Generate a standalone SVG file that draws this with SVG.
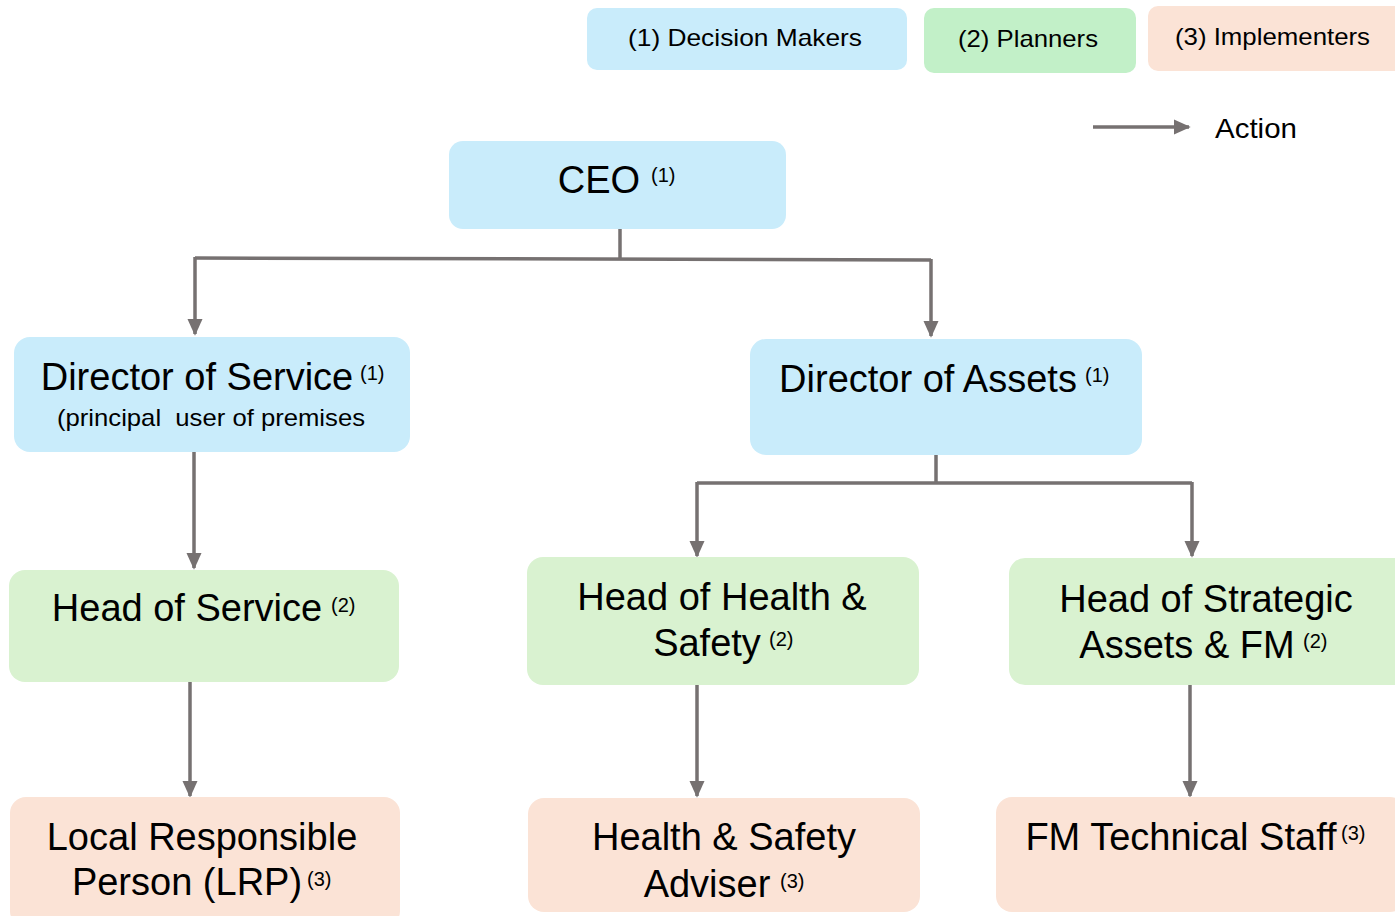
<svg xmlns="http://www.w3.org/2000/svg" width="1395" height="916" viewBox="0 0 1395 916">
  <style>
    text { font-family: "Liberation Sans", Arial, sans-serif; fill: #000; }
    .t { font-size: 38px; text-anchor: middle; }
    .sup { font-size: 20px; }
    .sub { font-size: 24px; }
    .leg { font-size: 24px; }
    .blue { fill: #c9ecfb; }
    .green { fill: #d9f2d0; }
    .lgreen { fill: #c2f0c8; }
    .peach { fill: #fbe3d6; }
    .conn { fill: none; stroke: #767171; stroke-width: 3.5; }
  </style>
  <defs>
    <marker id="arrow" viewBox="0 0 10 10" refX="9" refY="5" markerWidth="17" markerHeight="17" markerUnits="userSpaceOnUse" orient="auto">
      <path d="M0,0.5 L10,5 L0,9.5 z" fill="#767171"/>
    </marker>
  </defs>

  <rect width="1395" height="916" fill="#ffffff"/>

  <!-- legend -->
  <g id="legend">
    <rect x="587" y="8" width="320" height="62" rx="10" class="blue"/>
    <text x="628" y="46" class="leg" textLength="234" lengthAdjust="spacingAndGlyphs">(1) Decision Makers</text>
    <rect x="924" y="8" width="212" height="65" rx="10" class="lgreen"/>
    <text x="958" y="47" class="leg" textLength="140" lengthAdjust="spacingAndGlyphs">(2) Planners</text>
    <rect x="1148" y="6" width="260" height="65" rx="10" class="peach"/>
    <text x="1175" y="45" class="leg" textLength="195" lengthAdjust="spacingAndGlyphs">(3) Implementers</text>
    <line x1="1093" y1="127" x2="1189" y2="127" class="conn" marker-end="url(#arrow)"/>
    <text x="1215" y="138" style="font-size:28px" textLength="82" lengthAdjust="spacingAndGlyphs">Action</text>
  </g>

  <!-- connectors -->
  <g id="connectors">
    <path d="M620,229 V258" class="conn"/>
    <path d="M195,258 L931,260" class="conn"/>
    <path d="M195,257 V334" class="conn" marker-end="url(#arrow)"/>
    <path d="M931,259 V336" class="conn" marker-end="url(#arrow)"/>
    <path d="M194,452 V568" class="conn" marker-end="url(#arrow)"/>
    <path d="M190,682 V796" class="conn" marker-end="url(#arrow)"/>
    <path d="M936,455 V483 M697,483 H1192" class="conn"/>
    <path d="M697,482 V556" class="conn" marker-end="url(#arrow)"/>
    <path d="M1192,482 V556" class="conn" marker-end="url(#arrow)"/>
    <path d="M697,685 V796" class="conn" marker-end="url(#arrow)"/>
    <path d="M1190,685 V796" class="conn" marker-end="url(#arrow)"/>
  </g>

  <!-- level 1 -->
  <g id="ceo">
    <rect x="449" y="141" width="337" height="88" rx="14" class="blue"/>
    <text x="599" y="193" class="t">CEO</text>
    <text x="651" y="182" class="sup">(1)</text>
  </g>
  <g id="director-service">
    <rect x="14" y="337" width="396" height="115" rx="16" class="blue"/>
    <text x="197" y="390" class="t">Director of Service</text>
    <text x="360" y="380" class="sup">(1)</text>
    <text x="57" y="426" class="sub" xml:space="preserve" textLength="308" lengthAdjust="spacingAndGlyphs">(principal  user of premises</text>
  </g>
  <g id="director-assets">
    <rect x="750" y="339" width="392" height="116" rx="16" class="blue"/>
    <text x="928" y="392" class="t">Director of Assets</text>
    <text x="1085" y="382" class="sup">(1)</text>
  </g>

  <!-- level 2 -->
  <g id="head-service">
    <rect x="9" y="570" width="390" height="112" rx="16" class="green"/>
    <text x="187" y="621" class="t">Head of Service</text>
    <text x="331" y="612" class="sup">(2)</text>
  </g>
  <g id="head-health-safety">
    <rect x="527" y="557" width="392" height="128" rx="16" class="green"/>
    <text x="722" y="610" class="t">Head of Health &amp;</text>
    <text x="707" y="656" class="t">Safety</text>
    <text x="769" y="646" class="sup">(2)</text>
  </g>
  <g id="head-strategic-assets">
    <rect x="1009" y="558" width="400" height="127" rx="16" class="green"/>
    <text x="1206" y="612" class="t">Head of Strategic</text>
    <text x="1187" y="658" class="t">Assets &amp; FM</text>
    <text x="1303" y="648" class="sup">(2)</text>
  </g>

  <!-- level 3 -->
  <g id="lrp">
    <rect x="10" y="797" width="390" height="130" rx="16" class="peach"/>
    <text x="202" y="850" class="t">Local Responsible</text>
    <text x="187" y="895" class="t">Person (LRP)</text>
    <text x="307" y="886" class="sup">(3)</text>
  </g>
  <g id="hs-adviser">
    <rect x="528" y="798" width="392" height="114" rx="16" class="peach"/>
    <text x="724" y="850" class="t">Health &amp; Safety</text>
    <text x="707" y="897" class="t">Adviser</text>
    <text x="780" y="888" class="sup">(3)</text>
  </g>
  <g id="fm-staff">
    <rect x="996" y="797" width="410" height="115" rx="16" class="peach"/>
    <text x="1181" y="850" class="t">FM Technical Staff</text>
    <text x="1341" y="840" class="sup">(3)</text>
  </g>
</svg>
